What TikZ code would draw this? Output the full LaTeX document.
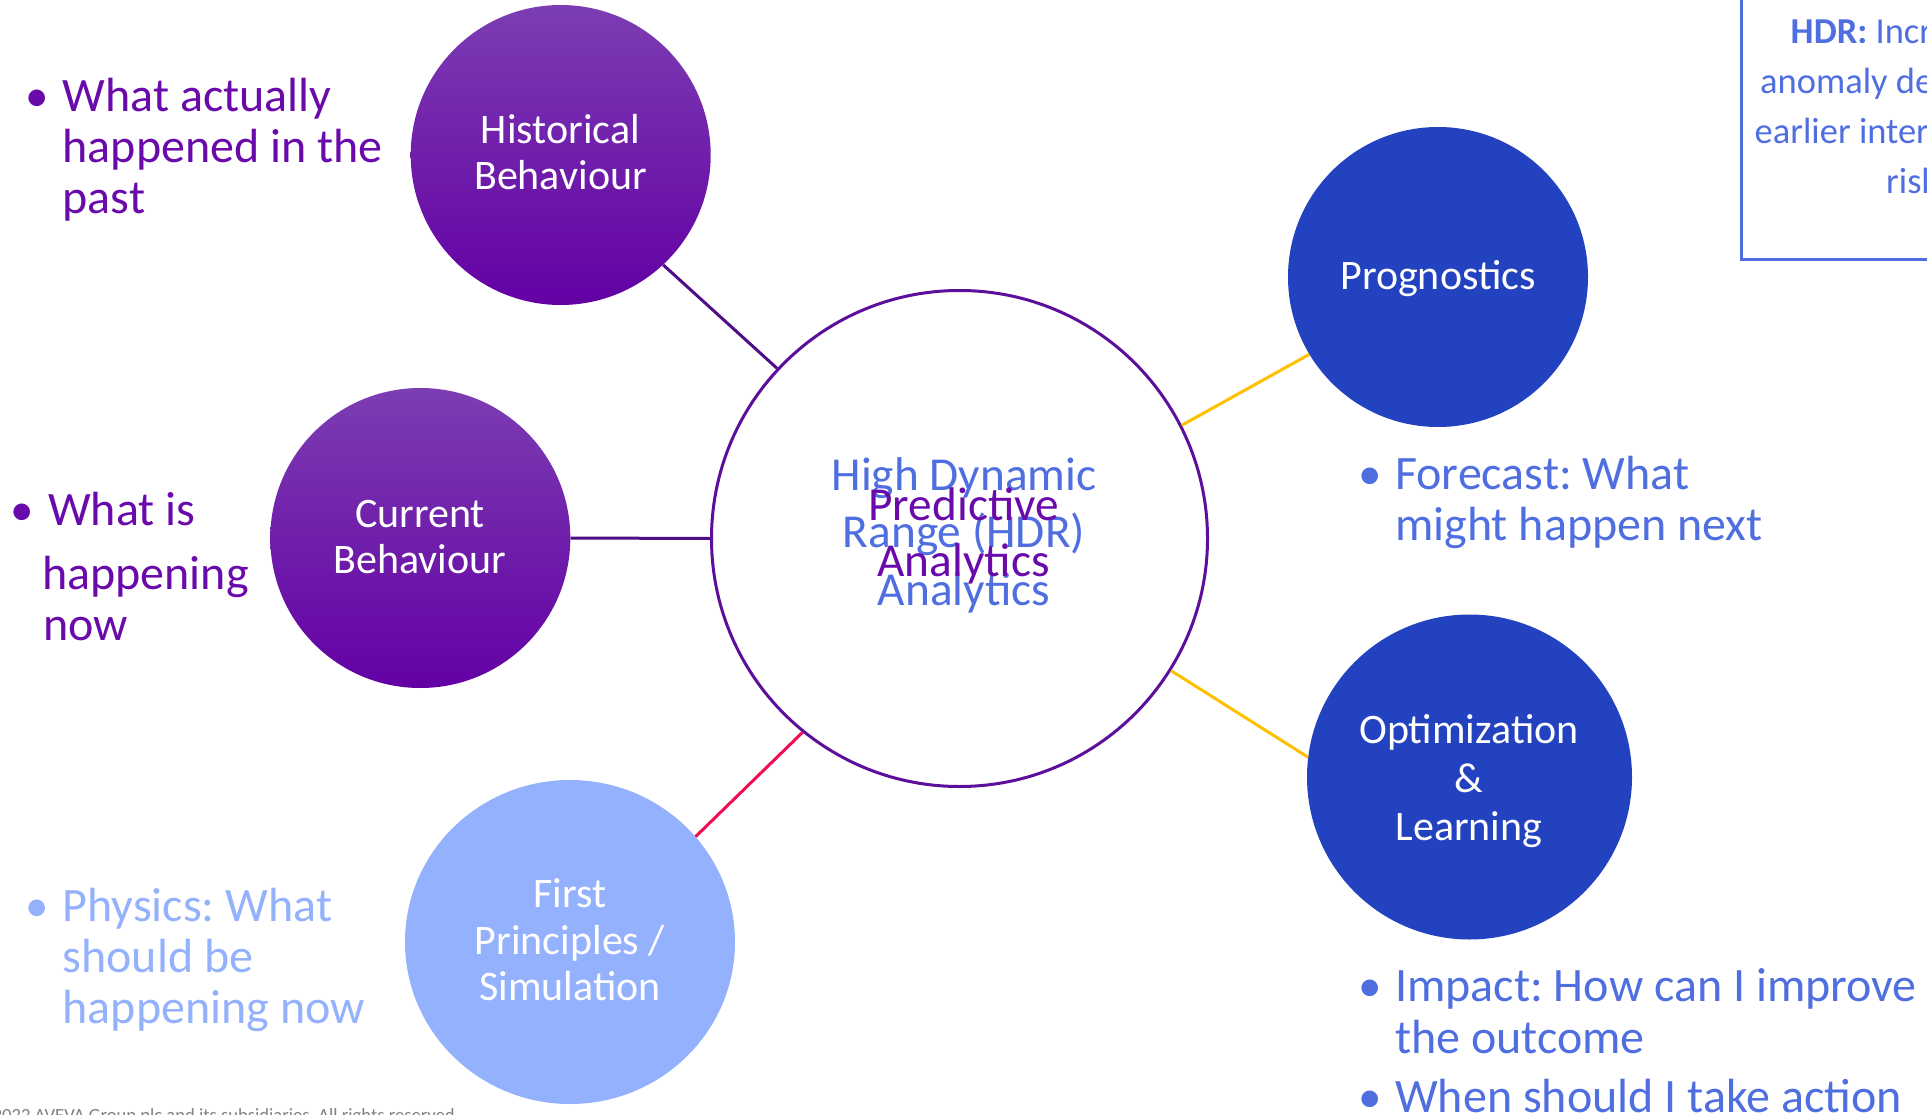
\documentclass[tikz,border=0pt]{standalone}
\usepackage{fontspec}
\setmainfont{Carlito}
\frenchspacing
\usetikzlibrary{shapes.geometric}
\definecolor{purpTop}{HTML}{7C3DB2}
\definecolor{purpMid}{HTML}{6A05AB}
\definecolor{purpBot}{HTML}{6300A4}
\definecolor{blueC}{HTML}{2242BF}
\definecolor{lightC}{HTML}{94B1FD}
\definecolor{txtBlue}{HTML}{4F6FE1}
\definecolor{txtPurp}{HTML}{6A0AAB}
\definecolor{lineP}{HTML}{4E0F86}
\definecolor{ringP}{HTML}{5C0F9B}
\definecolor{yel}{HTML}{FFC000}
\definecolor{redL}{HTML}{F20D52}
\definecolor{grayT}{HTML}{808080}
\begin{document}
\begin{tikzpicture}[x=1pt,y=-1pt,
  pcirc/.style={circle, minimum size=300pt, inner sep=0pt, top color=purpTop, middle color=purpMid, bottom color=purpBot},
  bcirc/.style={circle, inner sep=0pt, fill=blueC},
  lcirc/.style={ellipse, inner sep=0pt, fill=lightC, minimum width=330pt, minimum height=324pt},
  ring/.style={circle, inner sep=0pt, minimum size=496pt, draw=ringP, line width=3pt, fill=white},
  lbl/.style={text=white, align=flush center, text width=320pt, anchor=base, inner sep=0pt, font=\fontsize{42}{46}\selectfont},
  ctxt/.style={align=flush center, text width=400pt, anchor=base, inner sep=0pt, font=\fontsize{47.3}{57.5}\selectfont},
  bul/.style={anchor=base west, align=flush left, text width=340pt, inner sep=0pt, font=\fontsize{48}{51}\selectfont},
  bdot/.style={anchor=base, inner sep=0pt, font=\fontsize{47}{51}\selectfont},
  conn/.style={line width=3pt},
  hdrt/.style={anchor=base west, inner sep=0pt, text=txtBlue, font=\fontsize{36.5}{50}\selectfont}
]
\useasboundingbox (0,0) rectangle (1927,1115);
\fill[white] (0,0) rectangle (1927,1115);

% central circle
\node[ring] (c) at (959.5,538.5) {};

% satellite circles
\node[pcirc] (hist) at (560.7,155) {};
\node[pcirc] (cur) at (420.3,538) {};
\node[lcirc] (fp) at (570,942) {};
\node[bcirc, minimum size=300pt] (prog) at (1438,277) {};
\node[bcirc, minimum size=325pt] (opt) at (1469.5,777) {};

% connectors
\draw[conn, lineP] (hist.-47.2) -- (c.137.4);
\draw[conn, lineP] (cur.east) -- (c.west);
\draw[conn, redL] (fp.40.3) -- (c.231.8);
\draw[conn, yel] (c.27) -- (prog.211.8);
\draw[conn, yel] (c.-32.8) -- (opt.173.3);

% circle labels
\node[lbl] (histL) at (560.5,144) {Historical\\Behaviour};
\node[lbl] (curL) at (420,527.7) {Current\\Behaviour};
\node[lbl, font=\fontsize{42}{46.5}\selectfont] (fpL) at (570,907.7) {First\\Principles /\\Simulation};
\node[lbl] (progL) at (1438,290) {Prognostics};
\node[lbl, font=\fontsize{42}{48.7}\selectfont] (optL) at (1469,743.3) {Optimization\\\&\\Learning};

% centre texts (overlapping)
\node[ctxt, text=txtBlue] (cBlue) at (964,490) {High Dynamic\\Range (HDR)\\Analytics};
\node[ctxt, text=txtPurp, font=\fontsize{47.3}{56.7}\selectfont] (cPurp) at (963.7,520) {Predictive\\Analytics};

% left bullets
\node[bdot, text=txtPurp] (d1) at (37.5,111.7) {•};
\node[bul, text=txtPurp] (b1) at (62.5,111.7) {What actually\\happened in the\\past};

\node[bdot, text=txtPurp] (d2) at (22.5,525) {•};
\node[bul, text=txtPurp, text width=220pt] (b2) at (48,525) {What is\\[13.4pt]\hspace*{-6pt}happening\\\hspace*{-5pt}now};

\node[bdot, text=lightC] (d3) at (37.5,921.7) {•};
\node[bul, text=lightC] (b3) at (62.5,921.7) {Physics: What\\should be\\happening now};

% right bullets
\node[bdot, text=txtBlue] (d4) at (1370.5,489) {•};
\node[bul, text=txtBlue, text width=420pt] (b4) at (1395,489) {Forecast: What\\might happen next};

\node[bdot, text=txtBlue] (d5) at (1370.5,1001.5) {•};
\node[bul, text=txtBlue, text width=530pt, font=\fontsize{48}{51.5}\selectfont] (b5) at (1395,1001.5) {Impact: How can I improve\\the outcome};
\node[bdot, text=txtBlue] (d6) at (1370.5,1112) {•};
\node[bul, text=txtBlue, text width=530pt] (b6) at (1395,1112) {When should I take action};

% clipped items at the borders
\begin{scope}
\clip (0,0) rectangle (1927,1115);
\draw[txtBlue, line width=3pt] (1741.7,-20) rectangle (1990,260);
\node[hdrt] (h1) at (1790.5,43.3) {\textbf{HDR:} Increased};
\node[hdrt] (h2) at (1760,93.3) {anomaly detection};
\node[hdrt] (h3) at (1754.5,143.3) {earlier intervention};
\node[hdrt] (h4) at (1886,193.3) {risk};
\node[anchor=base east, inner sep=0pt, text=grayT, font=\fontsize{18.6}{22}\selectfont] (foot) at (455,1121) {©2022 AVEVA Group plc and its subsidiaries. All rights reserved};
\end{scope}
\end{tikzpicture}
\end{document}
